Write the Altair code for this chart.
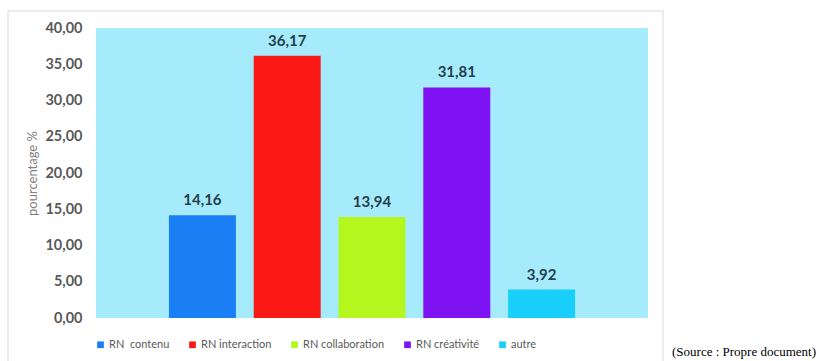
import altair as alt
import pandas as pd

categories = ["RN\u00a0 contenu", "RN interaction", "RN collaboration", "RN créativité", "autre"]
values = [14.16, 36.17, 13.94, 31.81, 3.92]
colors = ["#1a7ef5", "#fc1a17", "#b4f71e", "#7f12f2", "#19cffb"]
y_ticks = [0, 5, 10, 15, 20, 25, 30, 35, 40]
source_note = ["(Source : Propre document)"]

df = pd.DataFrame({"cat": categories, "val": values})
df["lab"] = [f"{v:.2f}".replace(".", ",") for v in values]

W, H = 552, 290
FONT = "Lato"

x = alt.X("cat:N", sort=categories,
          scale=alt.Scale(paddingInner=0.21, paddingOuter=0.86),
          axis=None)
y = alt.Y("val:Q", scale=alt.Scale(domain=[0, 40], nice=False),
          axis=alt.Axis(values=y_ticks, tickCount=9, title="pourcentage %",
                        labelExpr="replace(format(datum.value, '.2f'), '.', ',')",
                        labelFont=FONT, labelFontSize=14.5, labelFontWeight="bold",
                        labelColor="#595959", labelPadding=14, ticks=False,
                        labelOverlap=False,
                        domain=False, grid=False,
                        titleFont=FONT, titleFontSize=13, titleFontWeight="normal",
                        titleColor="#808080", titlePadding=5))

bars = alt.Chart(df).mark_bar().encode(
    x=x, y=y,
    color=alt.Color("cat:N", sort=categories,
                    scale=alt.Scale(domain=categories, range=colors),
                    legend=alt.Legend(title=None, orient="none", direction="horizontal",
                                      legendX=-1, legendY=311, columns=5,
                                      gridAlign="each",
                                      symbolType="square", symbolSize=45,
                                      symbolStrokeWidth=0, columnPadding=17,
                                      labelFont=FONT, labelFontSize=11,
                                      labelColor="#595959", labelOffset=3,
                                      labelLimit=200))
)

labels = alt.Chart(df).mark_text(baseline="bottom", dy=-7, font=FONT, fontSize=15,
                                 fontWeight="bold", color="#24404c").encode(
    x=x, y=y, text="lab:N"
)

frame_df = pd.DataFrame({"k": [0]})
frame = alt.Chart(frame_df).mark_rect(fill=None, stroke="#d9d9d9", strokeWidth=1).encode(
    x=alt.value(-88), x2=alt.value(567), y=alt.value(-17), y2=alt.value(345)
)

note = alt.Chart(pd.DataFrame({"t": source_note})).mark_text(
    align="left", baseline="alphabetic", font="Liberation Serif", fontSize=13,
    color="#000000").encode(
    x=alt.value(576), y=alt.value(328), text="t:N"
)

chart = alt.layer(frame, bars, labels, note).properties(
    width=W, height=H,
    padding={"left": 96, "top": 28, "right": 174, "bottom": 43},
    autosize=alt.AutoSizeParams(type="none"),
    background="white",
).configure_view(fill="#a6ebfc", stroke=None)

chart.save("out.html", embed_options={"renderer": "svg", "actions": False})
